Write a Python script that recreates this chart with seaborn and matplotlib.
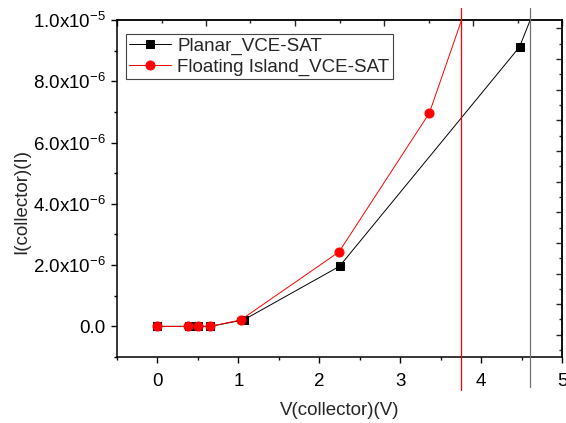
import matplotlib
matplotlib.use("Agg")
import matplotlib.pyplot as plt
import matplotlib.transforms as mtransforms
from matplotlib.ticker import MultipleLocator, FixedLocator, FuncFormatter
import numpy as np
import pandas as pd
import seaborn as sns

# ---------------- data ----------------
planar_v = [0.0, 0.385, 0.50, 0.655, 1.065, 2.25, 4.475, 5.6]
planar_i = [0.0, 0.0, 0.0, 0.0, 0.21e-6, 1.96e-6, 9.12e-6, 16.6e-6]
island_v = [0.0, 0.38, 0.507, 0.65, 1.03, 2.244, 3.36, 4.48]
island_i = [0.0, 0.0, 0.0, 0.0, 0.21e-6, 2.43e-6, 6.96e-6, 15.5e-6]
series_names = ["Planar_VCE-SAT", "Floating Island_VCE-SAT"]
# vertical artefact lines drawn by the original software
vline_x = [3.757, 4.607]
y_tick_values = [0.0, 2e-6, 4e-6, 6e-6, 8e-6, 1e-5]
y_tick_labels = ["0.0", r"2.0x10$^{-6}$", r"4.0x10$^{-6}$", r"6.0x10$^{-6}$",
                 r"8.0x10$^{-6}$", r"1.0x10$^{-5}$"]
x_label = "V(collector)(V)"
y_label = "I(collector)(I)"

FS = 13.5

sns.set_style("white")
plt.rcParams["font.family"] = ["Liberation Sans", "DejaVu Sans"]
plt.rcParams["mathtext.default"] = "regular"
plt.rcParams["axes.linewidth"] = 1.1

fig = plt.figure(figsize=(5.66, 4.23), dpi=100)
ax = fig.add_axes([117 / 566, 1 - 357 / 423, 445 / 566, 337 / 423])

df_p = pd.DataFrame({"V": planar_v, "I": planar_i})
df_f = pd.DataFrame({"V": island_v, "I": island_i})

sns.lineplot(data=df_p, x="V", y="I", sort=False, color="black", lw=0.7,
             marker="s", markersize=6, markeredgecolor="black",
             markerfacecolor="black", label=series_names[0], ax=ax, zorder=3)
sns.lineplot(data=df_f, x="V", y="I", sort=False, color="red", lw=0.7,
             marker="o", markersize=6.5, markeredgecolor="red",
             markerfacecolor="red", label=series_names[1], ax=ax, zorder=4)

trans = mtransforms.blended_transform_factory(ax.transData, ax.transAxes)
ax.axvline(vline_x[0], ymin=-0.098, ymax=1.035, color="red",
           lw=0.9, clip_on=False, zorder=5)
ax.axvline(vline_x[1], ymin=-0.089, ymax=1.035, color="#707070",
           lw=0.9, clip_on=False, zorder=5)

ax.set_xlim(-0.5, 5.0)
ax.set_ylim(-1e-6, 1e-5)

ax.xaxis.set_major_locator(MultipleLocator(1))
ax.xaxis.set_minor_locator(MultipleLocator(0.5))
ax.yaxis.set_major_locator(FixedLocator(y_tick_values))
ax.yaxis.set_major_formatter(FuncFormatter(
    lambda v, p: y_tick_labels[int(round(v / 2e-6))] if 0 <= round(v / 2e-6) < len(y_tick_labels) else ""))
ax.yaxis.set_minor_locator(MultipleLocator(1e-6))
ax.xaxis.set_major_formatter(FuncFormatter(lambda v, p: f"{v:g}"))

ax.tick_params(axis="both", which="major", direction="out", length=4.5,
               width=1.0, labelsize=FS, color="black", labelcolor="black")
ax.tick_params(axis="both", which="minor", direction="out", length=2.3,
               width=1.0, color="black")
ax.tick_params(axis="x", which="major", pad=7)
ax.tick_params(axis="y", which="major", pad=3.5)
ax.tick_params(left=True, bottom=True, which="both")

for s in ax.spines.values():
    s.set_color("black")
    s.set_linewidth(1.1)

# top axis (independent scale with inward ticks)
top = ax.secondary_xaxis("top", functions=(lambda x: (x + 0.5) * 5 / 5.5,
                                           lambda t: t * 5.5 / 5 - 0.5))
top.xaxis.set_major_locator(MultipleLocator(1))
top.xaxis.set_minor_locator(MultipleLocator(0.5))
top.tick_params(which="major", direction="in", length=4.5, width=1.0,
                labeltop=False)
top.tick_params(which="minor", direction="in", length=2.3, width=1.0)
top.spines["top"].set_linewidth(1.1)

# right axis (independent scale with inward ticks)
right = ax.secondary_yaxis("right", functions=(lambda y: y * 1e6 + 0.275,
                                               lambda r: (r - 0.275) * 1e-6))
right.yaxis.set_major_locator(MultipleLocator(1))
right.yaxis.set_minor_locator(MultipleLocator(0.5))
right.tick_params(which="major", direction="in", length=4.5, width=1.0,
                  labelright=False)
right.tick_params(which="minor", direction="in", length=2.3, width=1.0)
right.spines["right"].set_linewidth(1.1)

ax.set_xlabel(x_label, fontsize=FS)
ax.set_ylabel(y_label, fontsize=FS)
ax.xaxis.set_label_coords(0.5, -0.135)
ax.yaxis.set_label_coords(-0.195, 0.46)

leg = ax.legend(loc="upper left", bbox_to_anchor=(0.02, 0.958),
                borderaxespad=0, frameon=True, fancybox=False, fontsize=FS,
                handlelength=2.25, handletextpad=0.3, borderpad=0.18,
                labelspacing=0.2, edgecolor="#444444", framealpha=1)
leg.get_frame().set_linewidth(0.8)

fig.savefig("out.png", dpi=100)
